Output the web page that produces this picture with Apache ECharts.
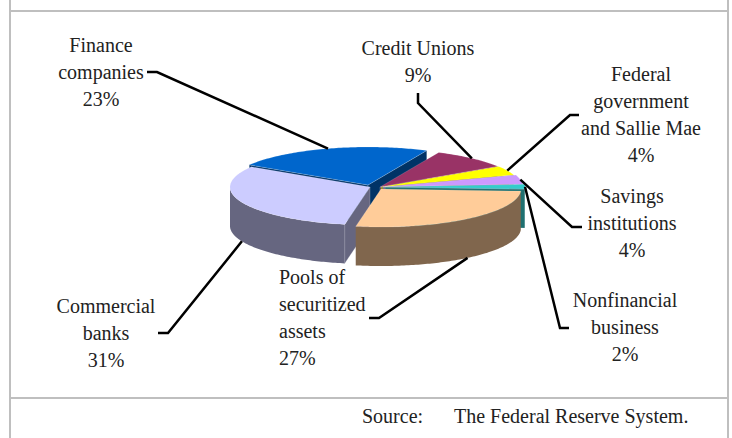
<!DOCTYPE html>
<html>
<head>
<meta charset="utf-8">
<style>html,body{margin:0;padding:0;background:#fff}#chart{width:732px;height:438px}</style>
<script src="https://cdn.jsdelivr.net/npm/echarts@6/dist/echarts.min.js"></script>
</head>
<body>
<div id="chart"></div>
<script>
// Holders' shares, clockwise from the left of the pie.
const categories = ['Finance\ncompanies', 'Credit Unions', 'Federal\ngovernment\nand Sallie Mae',
  'Savings\ninstitutions', 'Nonfinancial\nbusiness', 'Pools of\nsecuritized\nassets', 'Commercial\nbanks'];
const shares = [23, 9, 4, 4, 2, 27, 31];
const topColors = ['#0066cc', '#993366', '#ffff00', '#cc99ff', '#33cccc', '#ffcc99', '#ccccff'];
const sideColors = ['#003366', '#4d1a33', '#808000', '#664d80', '#1f7070', '#80664d', '#666680'];

// Pie geometry: a tilted ellipse with an extruded rim.
const pie = { cx: 376, cy: 187, rx: 140, ry: 38, depth: 39, startDeg: -58 };
const explode = [[-8, -2], [4, 0], [5, 0], [7, 0], [9, 0], [5, 2], [-6, 0]];
const paintRank = [0, 1, 2, 3, 4, 6, 5];

// Label boxes and leader elbows.
const labelAt = [
  { x: 101, y: 72, align: 'center' }, { x: 418, y: 61, align: 'center' },
  { x: 641, y: 114, align: 'center' }, { x: 632, y: 223, align: 'center' },
  { x: 625, y: 327, align: 'center' }, { x: 279, y: 317, align: 'left' },
  { x: 106, y: 333, align: 'center' }
];
const leaderEnds = [
  [[147, 72], [157, 72]], [[418, 93], [418, 103]], [[579, 115], [570, 115]],
  [[582, 227], [572, 227]], [[569, 328], [560, 328]], [[369, 318], [379, 318]],
  [[158, 333], [168, 333]]
];
const fontFamily = '"Liberation Serif", serif';
const fontSize = 20;

const rad = d => d * Math.PI / 180;
const sliceAngles = (i) => {
  const before = shares.slice(0, i).reduce((s, v) => s + v, 0);
  const total = shares.reduce((s, v) => s + v, 0);
  return [pie.startDeg + before / total * 360, pie.startDeg + (before + shares[i]) / total * 360];
};
const onRim = (i, deg, drop = 0) => [
  pie.cx + explode[i][0] + pie.rx * Math.sin(rad(deg)),
  pie.cy + explode[i][1] - pie.ry * Math.cos(rad(deg)) + drop
];
const apex = (i, drop = 0) => [pie.cx + explode[i][0], pie.cy + explode[i][1] + drop];
const arc = (i, a, b, drop = 0) => {
  const pts = [], n = Math.max(2, Math.ceil(Math.abs(b - a)));
  for (let k = 0; k <= n; k++) pts.push(onRim(i, a + (b - a) * k / n, drop));
  return pts;
};

function renderSlice(params) {
  const i = params.dataIndex;
  const [a0, a1] = sliceAngles(i);
  const z = paintRank[i] * 10;
  const faces = [];
  const edge = (deg) => ({
    type: 'polygon',
    z2: z,
    shape: { points: [apex(i), onRim(i, deg), onRim(i, deg, pie.depth), apex(i, pie.depth)] },
    style: { fill: sideColors[i], stroke: 'rgba(255,255,255,0.35)', lineWidth: 0.6 }
  });
  if (Math.sin(rad(a0)) < 0) faces.push(edge(a0));
  if (Math.sin(rad(a1)) > 0) faces.push(edge(a1));
  // Outer wall: only the part of the rim that faces the viewer.
  const wallA = Math.max(a0, 90), wallB = Math.min(a1, 270);
  if (wallB > wallA) {
    faces.push({
      type: 'polygon',
      z2: z + 1,
      shape: { points: arc(i, wallA, wallB).concat(arc(i, wallA, wallB, pie.depth).reverse()) },
      style: { fill: sideColors[i] }
    });
  }
  faces.push({
    type: 'polygon',
    z2: z + 2,
    shape: { points: [apex(i)].concat(arc(i, a0, a1)) },
    style: { fill: topColors[i], stroke: 'rgba(255,255,255,0.25)', lineWidth: 0.6 }
  });
  return { type: 'group', children: faces };
}

function renderLabel(params, api) {
  const i = params.dataIndex;
  const [a0, a1] = sliceAngles(i);
  const mid = (a0 + a1) / 2;
  // Front slices point their leader at the bottom of the rim.
  const tip = onRim(i, mid, Math.cos(rad(mid)) < -0.3 ? pie.depth : 0);
  return {
    type: 'group',
    children: [
      {
        type: 'polyline',
        z2: 100,
        shape: { points: leaderEnds[i].concat([tip]) },
        style: { stroke: '#000', lineWidth: 2.5, fill: null }
      },
      {
        type: 'text',
        z2: 101,
        style: {
          text: categories[i] + '\n' + api.value(0) + '%',
          x: labelAt[i].x,
          y: labelAt[i].y,
          align: labelAt[i].align,
          verticalAlign: 'middle',
          fontFamily,
          fontSize,
          lineHeight: 27,
          fill: '#222'
        }
      }
    ]
  };
}

const frameLine = (x1, y1, x2, y2) => ({
  type: 'line',
  shape: { x1, y1, x2, y2 },
  style: { stroke: '#bfbfbf', lineWidth: 2 }
});
const sourceText = (text, x) => ({
  type: 'text',
  style: { text, x, y: 416, verticalAlign: 'middle', fontFamily, fontSize, fill: '#222' }
});

const chart = echarts.init(document.getElementById('chart'), null, { renderer: 'svg' });
chart.setOption({
  animation: false,
  backgroundColor: '#fff',
  graphic: [
    frameLine(10, 0, 10, 438), frameLine(728, 0, 728, 438),
    frameLine(10, 11, 728, 11), frameLine(10, 398, 728, 398),
    sourceText('Source:', 362), sourceText('The Federal Reserve System.', 454)
  ],
  series: [
    { type: 'custom', coordinateSystem: 'none', data: shares, renderItem: renderSlice, silent: true },
    { type: 'custom', coordinateSystem: 'none', data: shares, renderItem: renderLabel, silent: true, z: 5 }
  ]
});
</script>
</body>
</html>
